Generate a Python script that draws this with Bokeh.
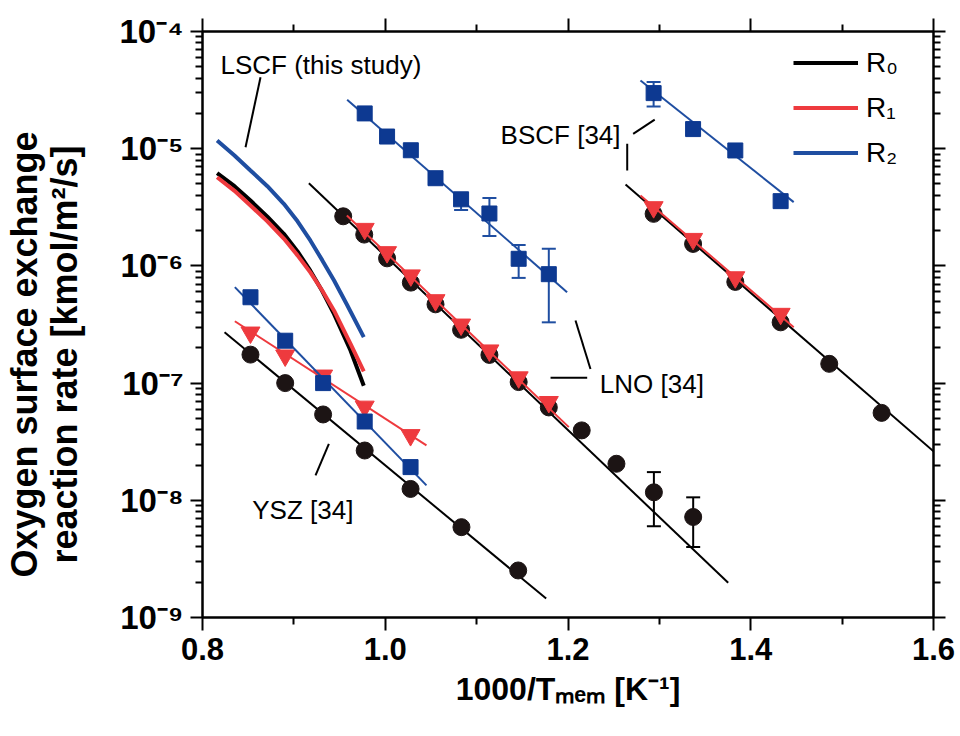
from bokeh.plotting import figure
from bokeh.models import (ColumnDataSource, FixedTicker, LogAxis, LinearAxis, Label,
                          Legend, LegendItem, Whisker, TeeHead, Range1d, CustomJSTickFormatter)
from bokeh.embed import file_html
from bokeh.resources import INLINE

# ---------------- data ----------------
# LSCF (this study) model curves
lscf_x = [0.816, 0.835, 0.8525, 0.871, 0.889, 0.904, 0.918, 0.931, 0.944, 0.962, 0.9765]
lscf_R0 = [6.18e-6, 4.79e-6, 3.61e-6, 2.63e-6, 1.88e-6, 1.33e-6, 9.1e-7, 6.1e-7, 3.88e-7, 1.90e-7, 9.5e-8]
lscf_R1 = [5.71e-6, 4.37e-6, 3.28e-6, 2.40e-6, 1.71e-6, 1.23e-6, 8.8e-7, 6.17e-7, 4.15e-7, 2.16e-7, 1.26e-7]
lscf_x2 = [0.816, 0.835, 0.8525, 0.871, 0.889, 0.904, 0.918, 0.931, 0.944, 0.958, 0.9765]
lscf_R2 = [1.175e-5, 8.75e-6, 6.52e-6, 4.79e-6, 3.39e-6, 2.40e-6, 1.65e-6, 1.12e-6, 7.50e-7, 4.68e-7, 2.47e-7]

# LNO [34]
lno_x0 = [0.954, 0.977, 1.002, 1.028, 1.055, 1.083, 1.114, 1.146, 1.179, 1.215, 1.253, 1.294, 1.337]
lno_R0 = [2.65e-6, 1.85e-6, 1.16e-6, 7.2e-7, 4.7e-7, 2.85e-7, 1.74e-7, 1.02e-7, 6.2e-8, 3.95e-8, 2.05e-8, 1.17e-8, 7.2e-9]
lno_err0_x = [1.294, 1.337]
lno_err0_lo = [6.0e-9, 4.0e-9]
lno_err0_hi = [1.74e-8, 1.06e-8]
lno_x12 = [0.9775, 1.002, 1.028, 1.055, 1.083, 1.114, 1.146, 1.179]
lno_R1 = [2.07e-6, 1.31e-6, 8.3e-7, 5.1e-7, 3.16e-7, 1.9e-7, 1.12e-7, 6.9e-8]
lno_R2 = [2.0e-5, 1.27e-5, 9.7e-6, 5.6e-6, 3.7e-6, 2.8e-6, 1.15e-6, 8.5e-7]
lno_err2_x = [1.083, 1.114, 1.146, 1.179]
lno_err2_lo = [3.0e-6, 1.8e-6, 7.9e-7, 3.3e-7]
lno_err2_hi = [3.9e-6, 3.8e-6, 1.51e-6, 1.4e-6]
lno_fit_x0 = [0.9164, 1.3753]
lno_fit_R0 = [5.08e-6, 1.98e-9]
lno_fit_x1 = [0.958, 1.2009]
lno_fit_R1 = [2.69e-6, 4.21e-8]
lno_fit_x2 = [0.9583, 1.199]
lno_fit_R2 = [2.61e-5, 5.97e-7]

# BSCF [34]
bscf_x12 = [1.2937, 1.3369, 1.3831, 1.4327]
bscf_R2 = [2.98e-5, 1.47e-5, 9.66e-6, 3.57e-6]
bscf_R1 = [3.17e-6, 1.70e-6, 8.0e-7, 3.9e-7]
bscf_x0 = [1.2937, 1.3369, 1.3831, 1.4327, 1.4859, 1.5432]
bscf_R0 = [2.78e-6, 1.54e-6, 7.3e-7, 3.3e-7, 1.46e-7, 5.57e-8]
bscf_err2_x = [1.2937]
bscf_err2_lo = [2.29e-5]
bscf_err2_hi = [3.7e-5]
bscf_fit_x12 = [1.2793, 1.447]
bscf_fit_R2 = [3.82e-5, 3.50e-6]
bscf_fit_R1 = [3.99e-6, 3.0e-7]
bscf_fit_x0 = [1.263, 1.6]
bscf_fit_R0 = [4.95e-6, 2.62e-8]

# YSZ [34]
ysz_x12 = [0.8525, 0.8905, 0.932, 0.9775, 1.0277]
ysz_R2 = [5.4e-7, 2.3e-7, 1.0e-7, 4.7e-8, 1.92e-8]
ysz_R1 = [2.7e-7, 1.72e-7, 1.16e-7, 6.3e-8, 3.6e-8]
ysz_x0 = [0.8525, 0.8905, 0.932, 0.9775, 1.0277, 1.0834, 1.1455]
ysz_R0 = [1.75e-7, 1.0e-7, 5.4e-8, 2.66e-8, 1.25e-8, 5.9e-9, 2.52e-9]
ysz_fit_x12 = [0.8354, 1.0451]
ysz_fit_R2 = [6.59e-7, 1.34e-8]
ysz_fit_R1 = [3.37e-7, 2.94e-8]
ysz_fit_x0 = [0.8241, 1.1761]
ysz_fit_R0 = [2.72e-7, 1.45e-9]

# axis ticks and titles
x_major = [0.8, 1.0, 1.2, 1.4, 1.6]
x_minor = [0.9, 1.1, 1.3, 1.5]
x_labels = ["0.8", "1.0", "1.2", "1.4", "1.6"]
y_exponents = [-9, -8, -7, -6, -5, -4]
y_labels = ["10\u207b\u2079", "10\u207b\u2078", "10\u207b\u2077",
            "10\u207b\u2076", "10\u207b\u2075", "10\u207b\u2074"]
x_title = "1000/T\u2098\u2091\u2098 [K\u207b\u00b9]"
PAD = "\u00a0" * 6
y_title = ("Oxygen surface exchange" + PAD + "\n" +
           "reaction rate [kmol/m\u00b2/s]" + PAD)
legend_labels = ["R\u2080", "R\u2081", "R\u2082"]

# callouts (annotation text and leader lines, data coords)
callout_texts = ["LSCF (this study)", "BSCF [34]", "LNO [34]", "YSZ [34]"]
callout_tx = [0.8197, 1.2575, 1.2348, 0.8544]
callout_ty = [5.2e-5, 1.32e-5, 9.9e-8, 8.2e-9]
callout_align = ["left", "right", "left", "left"]
leader_x0 = [0.8635, 1.2713, 1.2648, 1.2082, 1.1809, 0.9383]
leader_y0 = [4.07e-5, 1.34e-5, 1.10e-5, 3.42e-7, 1.11e-7, 3.03e-8]
leader_x1 = [0.8471, 1.2949, 1.2648, 1.2246, 1.221, 0.9237]
leader_y1 = [1.03e-5, 1.77e-5, 6.52e-6, 1.32e-7, 1.11e-7, 1.63e-8]

# ---------------- styling ----------------
BLACK = "#000000"
MBLACK = "#1c1414"
RED = "#ee3a3e"
BLUE_L = "#1f4ea1"
BLUE_M = "#0d3991"
FONT = "Liberation Sans"

p = figure(width=960, height=736, x_range=Range1d(0.8, 1.6), y_range=Range1d(1e-9, 1e-4),
           y_axis_type="log", output_backend="svg", toolbar_location=None,
           min_border_left=202, min_border_right=27, min_border_top=31, min_border_bottom=119,
           background_fill_color="white", border_fill_color="white",
           outline_line_color="black", outline_line_width=2)
p.grid.visible = False

y_major = [10.0 ** k for k in y_exponents]
y_minor = [m * 10.0 ** k for k in y_exponents[:-1] for m in range(2, 10)]
blank = CustomJSTickFormatter(code="return ''")


def style(ax, maj, mnr):
    ax.axis_line_width = 2
    ax.axis_line_color = "black"
    ax.major_tick_line_width = 2
    ax.minor_tick_line_width = 2
    ax.major_tick_in = 0
    ax.major_tick_out = maj
    ax.minor_tick_in = 0
    ax.minor_tick_out = mnr


# bottom axis
xa = p.xaxis[0]
xa.ticker = FixedTicker(ticks=x_major, minor_ticks=x_minor)
xa.major_label_overrides = {t: s for t, s in zip(x_major, x_labels)}
xa.major_label_text_font = FONT
xa.major_label_text_font_style = "bold"
xa.major_label_text_font_size = "31px"
xa.major_label_text_color = "black"
xa.major_label_standoff = 7
xa.axis_label = x_title
xa.axis_label_text_font = FONT
xa.axis_label_text_font_style = "bold"
xa.axis_label_text_font_size = "32px"
xa.axis_label_text_color = "black"
xa.axis_label_standoff = 8
style(xa, 13, 7)

# left axis
ya = p.yaxis[0]
ya.ticker = FixedTicker(ticks=y_major, minor_ticks=y_minor)
ya.formatter = CustomJSTickFormatter(args=dict(labels=y_labels, exps=y_exponents),
                                     code="return labels[exps.indexOf(Math.round(Math.log10(tick)))]")
ya.major_label_text_font = FONT
ya.major_label_text_font_style = "bold"
ya.major_label_text_font_size = "33px"
ya.major_label_text_color = "black"
ya.major_label_standoff = 7
ya.axis_label = y_title
ya.axis_label_text_font = FONT
ya.axis_label_text_font_style = "bold"
ya.axis_label_text_font_size = "36px"
ya.axis_label_text_color = "black"
ya.axis_label_text_line_height = 0.98
ya.axis_label_standoff = 31
style(ya, 12, 7)

ra = LogAxis(ticker=FixedTicker(ticks=y_major, minor_ticks=y_minor), formatter=blank)
style(ra, 12, 7)
p.add_layout(ra, "right")
ta = LinearAxis(ticker=FixedTicker(ticks=x_major, minor_ticks=x_minor), formatter=blank)
style(ta, 13, 7)
p.add_layout(ta, "above")

# LSCF curves
r_l0 = p.line(lscf_x, lscf_R0, line_color=BLACK, line_width=4)
r_l1 = p.line(lscf_x, lscf_R1, line_color=RED, line_width=4)
r_l2 = p.line(lscf_x2, lscf_R2, line_color=BLUE_L, line_width=4)

# black fit lines
for xs, ys in [(lno_fit_x0, lno_fit_R0), (bscf_fit_x0, bscf_fit_R0), (ysz_fit_x0, ysz_fit_R0)]:
    p.line(xs, ys, line_color=BLACK, line_width=2)


def whisk(xs, lo, hi, color):
    src = ColumnDataSource(dict(x=xs, lo=lo, hi=hi))
    w = Whisker(source=src, base="x", lower="lo", upper="hi", dimension="height",
                line_color=color, line_width=2,
                upper_head=TeeHead(size=14, line_color=color, line_width=2),
                lower_head=TeeHead(size=14, line_color=color, line_width=2))
    p.add_layout(w)


whisk(lno_err0_x, lno_err0_lo, lno_err0_hi, BLACK)
whisk(lno_err2_x, lno_err2_lo, lno_err2_hi, BLUE_L)
whisk(bscf_err2_x, bscf_err2_lo, bscf_err2_hi, BLUE_L)

# R0 markers
for xs, ys in [(lno_x0, lno_R0), (bscf_x0, bscf_R0), (ysz_x0, ysz_R0)]:
    p.scatter(xs, ys, marker="circle", size=17, fill_color=MBLACK, line_color=MBLACK)

# R1 fits + markers
for xs, ys in [(lno_fit_x1, lno_fit_R1), (bscf_fit_x12, bscf_fit_R1), (ysz_fit_x12, ysz_fit_R1)]:
    p.line(xs, ys, line_color=RED, line_width=2)
for xs, ys in [(lno_x12, lno_R1), (bscf_x12, bscf_R1), (ysz_x12, ysz_R1)]:
    p.scatter(xs, ys, marker="inverted_triangle", size=19, fill_color=RED, line_color=RED)

# R2 fits + markers
for xs, ys in [(lno_fit_x2, lno_fit_R2), (bscf_fit_x12, bscf_fit_R2), (ysz_fit_x12, ysz_fit_R2)]:
    p.line(xs, ys, line_color=BLUE_L, line_width=2)
for xs, ys in [(lno_x12, lno_R2), (bscf_x12, bscf_R2), (ysz_x12, ysz_R2)]:
    p.scatter(xs, ys, marker="square", size=15, fill_color=BLUE_M, line_color=BLUE_M)

# callouts
p.segment(leader_x0, leader_y0, leader_x1, leader_y1, line_color="black", line_width=2)
for t, x, y, a in zip(callout_texts, callout_tx, callout_ty, callout_align):
    p.add_layout(Label(x=x, y=y, text=t, text_align=a, text_baseline="alphabetic",
                       text_font=FONT, text_font_size="26px", text_color="black"))

# legend
legend = Legend(items=[LegendItem(label=legend_labels[0], renderers=[r_l0]),
                       LegendItem(label=legend_labels[1], renderers=[r_l1]),
                       LegendItem(label=legend_labels[2], renderers=[r_l2])],
                location=(591, 442), orientation="vertical",
                glyph_width=65, glyph_height=45, label_height=45, label_standoff=8,
                spacing=0, padding=0, margin=0,
                border_line_alpha=0, background_fill_alpha=0,
                label_text_font=FONT, label_text_font_size="28px", label_text_color="black")
p.add_layout(legend)

open("out.html", "w").write(file_html(p, INLINE))
